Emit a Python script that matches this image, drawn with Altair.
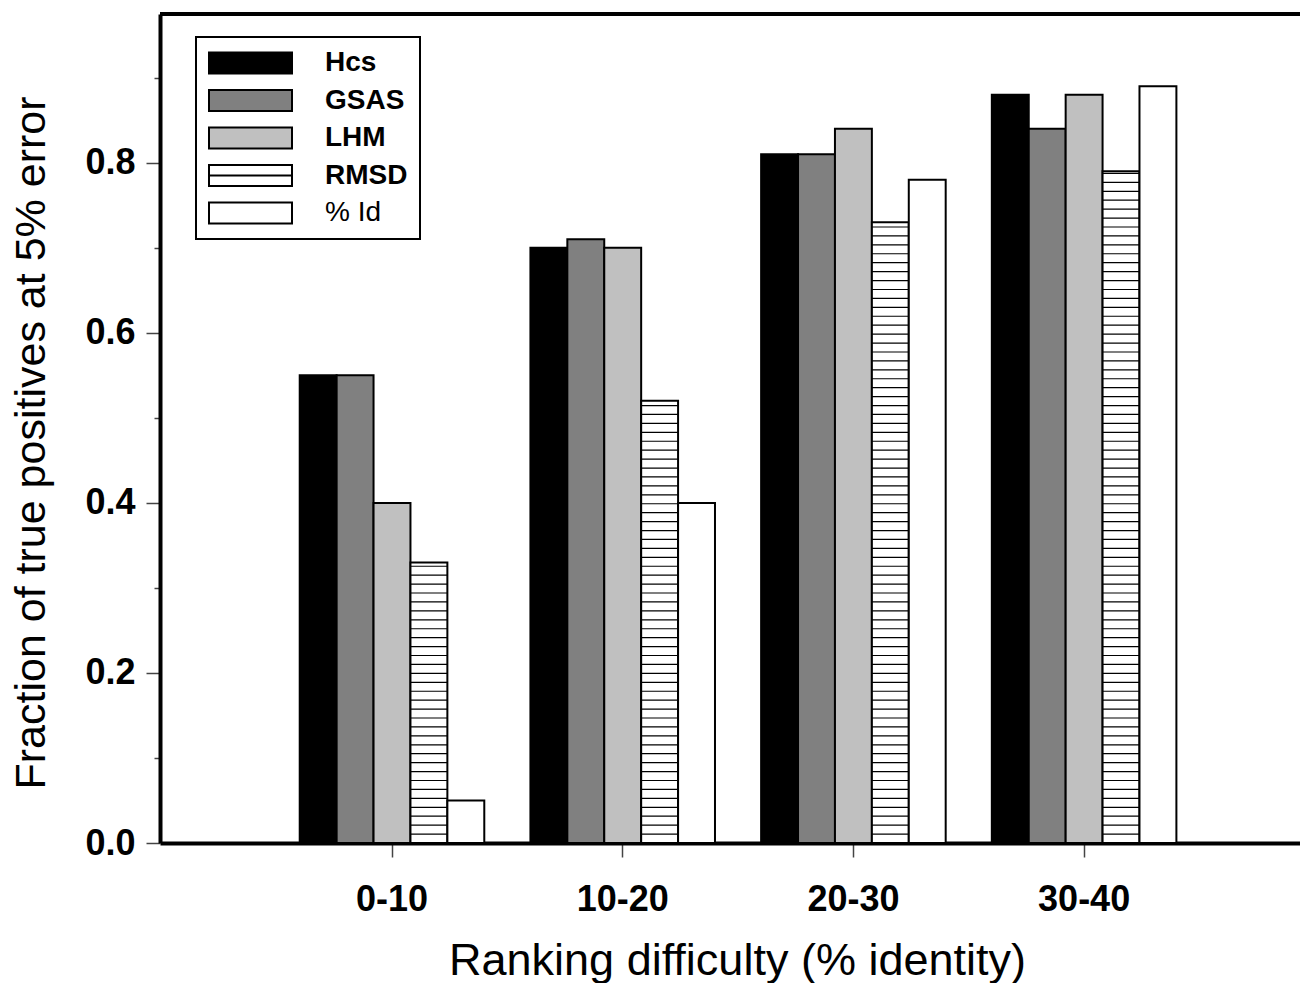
import altair as alt
import pandas as pd

FONT = "Liberation Sans"

categories = ["0-10", "10-20", "20-30", "30-40"]
series = ["Hcs", "GSAS", "LHM", "RMSD", "% Id"]
hcs = [0.55, 0.70, 0.81, 0.88]
gsas = [0.55, 0.71, 0.81, 0.84]
lhm = [0.40, 0.70, 0.84, 0.88]
rmsd = [0.33, 0.52, 0.73, 0.79]
pct_id = [0.05, 0.40, 0.78, 0.89]
fills = ["#000000", "#808080", "#c0c0c0", "#ffffff", "#ffffff"]
outlines = ["#000000"] * 5
y_ticks = [0.0, 0.1, 0.2, 0.3, 0.4, 0.5, 0.6, 0.7, 0.8, 0.9]
Y_MAX = 0.975
HATCH_STEP = 0.0105

RECT = "M-1,-0.253H1V0.253H-1Z"
RECT_LINE = RECT + "M-1,0H1"
shapes = [RECT, RECT, RECT, RECT_LINE, RECT]

rows = []
for name, vals in zip(series, [hcs, gsas, lhm, rmsd, pct_id]):
    for c, v in zip(categories, vals):
        rows.append({"range": c, "method": name, "value": v})
df = pd.DataFrame(rows)

X_TITLE = "Ranking difficulty (% identity)"
Y_TITLE = "Fraction of true positives at 5% error"

x_axis = alt.Axis(
    tickSize=14, tickWidth=1.5, tickColor="#444",
    domainWidth=4, domainColor="black",
    labelFontSize=36, labelFontWeight="bold", labelFont=FONT, labelColor="black",
    labelPadding=25, labelAngle=0,
    titleFontSize=45, titleFont=FONT, titleFontWeight="normal", titleColor="black",
    titleX=577, titleY=131, titleBaseline="alphabetic",
)
y_axis = alt.Axis(
    values=y_ticks,
    labelExpr="round(datum.value*10) % 2 == 0 ? format(datum.value, '.1f') : ''",
    tickSize={"condition": {"test": "round(datum.value*10) % 2 == 1", "value": 6}, "value": 14},
    tickWidth=1.5, tickColor="#444",
    domainWidth=4, domainColor="black",
    labelFontSize=36, labelFontWeight="bold", labelFont=FONT, labelColor="black",
    labelPadding=11, grid=False,
    titleFontSize=43, titleFont=FONT, titleFontWeight="normal", titleColor="black",
    titleX=-116, titleY=428.5, titleBaseline="alphabetic",
)

legend = alt.Legend(
    title=None, orient="none", legendX=36, legendY=23, direction="vertical",
    symbolSize=6889, symbolStrokeColor="black", symbolStrokeWidth=2,
    symbolOpacity=1, symbolOffset=0,
    labelOffset=32, labelFontSize=28, labelFont=FONT, labelColor="black",
    labelFontWeight={"expr": "datum.value == '% Id' ? 'normal' : 'bold'"},
    labelExpr="datum.label + ' '",
    clipHeight=28, rowPadding=9.5, padding=12,
    strokeColor="black", fillColor="white",
)

x_scale = alt.Scale(paddingInner=0.2, paddingOuter=0.5707, align=0.5306)
y_scale = alt.Scale(domain=[0, Y_MAX], nice=False, zero=True)
fill_scale = alt.Scale(domain=series, range=fills)
stroke_scale = alt.Scale(domain=series, range=outlines)
shape_scale = alt.Scale(domain=series, range=shapes)
off_scale = alt.Scale(domain=series, paddingInner=0, paddingOuter=0)

x_enc = alt.X("range:N", sort=categories, scale=x_scale, axis=x_axis, title=X_TITLE)
xo_enc = alt.XOffset("method:N", sort=series, scale=off_scale)

legend_layer = (
    alt.Chart(df)
    .transform_filter("false")
    .mark_point(filled=True, strokeWidth=2)
    .encode(
        fill=alt.Fill("method:N", scale=fill_scale, legend=legend),
        stroke=alt.Stroke("method:N", scale=stroke_scale, legend=legend),
        shape=alt.Shape("method:N", scale=shape_scale, legend=legend),
    )
)

bars = alt.Chart(df).mark_bar(stroke="black", strokeWidth=2).encode(
    x=x_enc,
    xOffset=xo_enc,
    y=alt.Y("value:Q", scale=y_scale, axis=y_axis, title=Y_TITLE),
    fill=alt.Fill("method:N", scale=fill_scale, legend=legend),
)

hatch = (
    alt.Chart(df)
    .transform_filter(alt.datum.method == "RMSD")
    .transform_calculate(hy=f"sequence({HATCH_STEP}, datum.value, {HATCH_STEP})")
    .transform_flatten(["hy"])
    .mark_tick(orient="horizontal", color="black", size=37, thickness=1.2, opacity=1)
    .encode(
        x=x_enc,
        xOffset=xo_enc,
        y=alt.Y("hy:Q", scale=y_scale, axis=y_axis, title=Y_TITLE),
    )
)

top_line = alt.Chart(pd.DataFrame({"top": [Y_MAX]})).mark_rule(
    color="black", strokeWidth=4
).encode(y=alt.Y("top:Q", scale=y_scale, axis=y_axis, title=Y_TITLE))

chart = (
    alt.layer(legend_layer, bars, hatch, top_line)
    .properties(
        width=1140, height=829,
        autosize=alt.AutoSizeParams(type="none"),
        padding={"left": 152, "top": 6, "right": 0, "bottom": 140},
        background="white",
    )
    .configure_view(stroke=None)
    .configure_legend(strokeWidth=2, symbolStrokeColor="black")
)

chart.save("out.html", embed_options={"renderer": "svg", "actions": False})
